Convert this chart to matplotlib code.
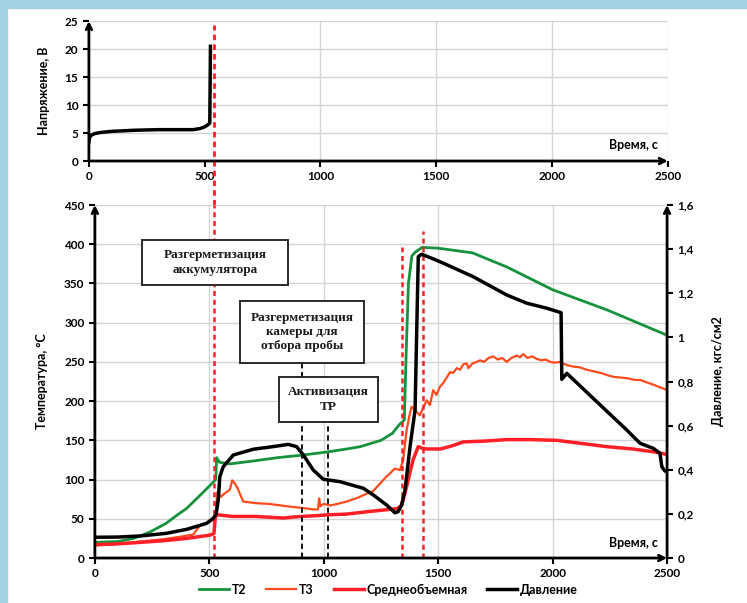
import matplotlib
matplotlib.use('Agg')
import matplotlib.pyplot as plt
from matplotlib.patches import Rectangle

plt.rcParams['font.family'] = ['Lato', 'DejaVu Sans']

# --- данные ---
volt_t = [0, 3, 10, 25, 50, 100, 150, 200, 300, 400, 450, 480, 500, 515, 522, 525]
volt_v = [3.3, 4.2, 4.6, 4.9, 5.1, 5.3, 5.4, 5.5, 5.6, 5.6, 5.6, 5.8, 6.1, 6.5, 6.8, 20.5]

t2_t = [0, 100, 170, 240, 310, 370, 400, 460, 515, 528, 532, 545, 590, 700, 800, 900, 1010,
        1100, 1160, 1250, 1300, 1330, 1345, 1352, 1360, 1370, 1385, 1400, 1430, 1500, 1650,
        1800, 2000, 2240, 2500]
t2_v = [20, 21, 25, 33, 44, 57, 63, 80, 96, 100, 128, 122, 120, 124, 128, 131, 135,
        139, 142, 150, 159, 170, 174, 176, 260, 350, 385, 390, 396, 395, 389,
        371, 342, 316, 284]

t3_t = [0, 100, 200, 300, 370, 430, 460, 500, 518, 528, 535, 550, 570, 590, 600, 612, 625,
        648, 700, 760, 838, 900, 954, 975, 980, 985, 1000, 1027, 1060, 1100, 1150, 1187, 1215,
        1246, 1275, 1290, 1310, 1333, 1347, 1362, 1377, 1384, 1400, 1420, 1435, 1450, 1464,
        1478, 1493, 1507, 1522, 1537, 1552, 1566, 1581, 1596, 1610, 1625, 1632, 1650, 1667,
        1683, 1700, 1720, 1741, 1760, 1780, 1799, 1820, 1843, 1858, 1872, 1890, 1910, 1930,
        1950, 1970, 1989, 2010, 2030, 2062, 2090, 2120, 2149, 2180, 2210, 2240, 2265, 2300,
        2330, 2360, 2382, 2410, 2440, 2465, 2484, 2500]
t3_v = [16, 18, 21, 24, 27, 30, 42, 46, 49, 55, 84, 78, 83, 87, 99, 95, 88,
        72, 70, 69, 66, 64, 62, 62, 76, 66, 69, 67, 69, 72, 77, 82, 85,
        95, 104, 108, 114, 112, 125, 163, 185, 193, 188, 182, 192, 201, 195,
        214, 208, 218, 223, 230, 237, 236, 242, 240, 247, 248, 242, 248, 250,
        252, 250, 255, 257, 253, 255, 250, 255, 258, 256, 260, 255, 257, 254,
        252, 253, 250, 249, 250, 246, 244, 243, 240, 238, 236, 233, 231, 230,
        229, 227, 227, 224, 221, 218, 216, 214]

avg_t = [0, 100, 200, 300, 400, 500, 520, 527, 540, 600, 700, 823, 900, 970, 1013, 1100,
         1190, 1320, 1340, 1362, 1390, 1413, 1430, 1450, 1510, 1560, 1610, 1700, 1800, 1900,
         2018, 2100, 2236, 2350, 2450, 2500]
avg_v = [17, 18, 20, 22, 25, 29, 31, 54, 55, 53, 53, 51, 53, 54, 55, 56,
         59, 63, 67, 91, 125, 142, 140, 139, 139, 143, 148, 149, 151, 151,
         150, 147, 142, 139, 135, 132]

p_t = [0, 100, 200, 313, 401, 488, 517, 530, 539, 546, 561, 605, 692, 779, 845, 881, 911,
       954, 998, 1071, 1173, 1216, 1275, 1311, 1325, 1340, 1355, 1377, 1399, 1413, 1428,
       1508, 1653, 1800, 1887, 1975, 2037, 2040, 2062, 2178, 2324, 2382, 2440, 2469, 2477,
       2490, 2500]
p_v = [0.094, 0.095, 0.1, 0.112, 0.13, 0.157, 0.18, 0.2, 0.263, 0.369, 0.414, 0.467, 0.493,
       0.505, 0.515, 0.505, 0.467, 0.399, 0.357, 0.346, 0.316, 0.286, 0.24, 0.205, 0.21, 0.24,
       0.308, 0.505, 0.671, 1.366, 1.377, 1.343, 1.275, 1.192, 1.155, 1.132, 1.112, 0.81,
       0.837, 0.723, 0.58, 0.52, 0.497, 0.475, 0.414, 0.395, 0.39]

x_ticks = [0, 500, 1000, 1500, 2000, 2500]
volt_ticks = [0, 5, 10, 15, 20, 25]
temp_ticks = [0, 50, 100, 150, 200, 250, 300, 350, 400, 450]
p_ticks = [0, 0.2, 0.4, 0.6, 0.8, 1.0, 1.2, 1.4, 1.6]
p_labels = ['0', '0,2', '0,4', '0,6', '0,8', '1', '1,2', '1,4', '1,6']

red_top = 540        # разгерметизация аккумулятора (верхний график)
red_lines = [520, 1342, 1434]
red_tops = [1.0, 0.88, 0.926]
black_lines = [905, 1018]
black_tops = [0.552, 0.385]

# подписи-рамки: текст, (t0, t1, p0, p1) рамки на оси давления
notes = ['Разгерметизация\nаккумулятора',
         'Разгерметизация\nкамеры для\nотбора пробы',
         'Активизация\nТР']
note_boxes = [(205, 844, 1.2375, 1.441),
              (634, 1176, 0.884, 1.165),
              (804, 1237, 0.6165, 0.820)]

GREEN = '#17923c'
T3C = '#ff4a1c'
RED = '#ff1f26'
GRID = '#d4d4d4'

fig = plt.figure(figsize=(7.47, 6.03), dpi=100)
fig.patches.append(Rectangle((0, 0.986), 1, 0.014, transform=fig.transFigure,
                             color='#a3d2e4', zorder=0))
fig.patches.append(Rectangle((0, 0), 0.01, 1, transform=fig.transFigure,
                             color='#a3d2e4', zorder=0))


def style_axis(ax):
    ax.grid(True, color=GRID, lw=1)
    ax.set_axisbelow(True)
    for s in ['top', 'right', 'left', 'bottom']:
        ax.spines[s].set_visible(False)
    ax.tick_params(axis='both', length=4, width=1.5, labelsize=8.5, color='black')
    for lab in ax.get_xticklabels() + ax.get_yticklabels():
        lab.set_fontweight('bold')
    ax.annotate('', xy=(0, 1.0), xytext=(0, 0), xycoords='axes fraction',
                arrowprops=dict(arrowstyle='->', lw=2, color='black', shrinkA=0, shrinkB=0))
    ax.annotate('', xy=(1.0, 0), xytext=(0, 0), xycoords='axes fraction',
                arrowprops=dict(arrowstyle='->', lw=2, color='black', shrinkA=0, shrinkB=0))


# --- верхний график: напряжение ---
ax0 = fig.add_axes([0.119, 0.733, 0.775, 0.232])
ax0.plot(volt_t, volt_v, color='black', lw=2.5)
ax0.set_xlim(0, 2500)
ax0.set_ylim(0, 25)
ax0.set_xticks(x_ticks)
ax0.set_yticks(volt_ticks)
style_axis(ax0)
ax0.get_xgridlines()[1].set_visible(False)   # на оригинале линии сетки у 500 нет
ax0.axvline(red_top, ymin=-0.314, ymax=0.97, color=RED, lw=2, dashes=(2, 1.5), clip_on=False)
ax0.set_ylabel('Напряжение, В', fontsize=9, fontweight='bold')
ax0.yaxis.set_label_coords(-0.067, 0.5)
ax0.text(2455, 2.9, 'Время, с', ha='right', va='center', fontsize=9, fontweight='bold')

# --- нижний график: температуры и давление ---
ax = fig.add_axes([0.127, 0.0746, 0.766, 0.5854])
l2, = ax.plot(t2_t, t2_v, color=GREEN, lw=2, label='T2')
l3, = ax.plot(t3_t, t3_v, color=T3C, lw=1.6, label='T3')
la, = ax.plot(avg_t, avg_v, color=RED, lw=2.5, label='Среднеобъемная')
ax.set_xlim(0, 2500)
ax.set_ylim(0, 450)
ax.set_xticks(x_ticks)
ax.set_yticks(temp_ticks)
style_axis(ax)
ax.set_ylabel('Температура, °С', fontsize=9, fontweight='bold')
ax.yaxis.set_label_coords(-0.082, 0.5)
ax.text(2460, 19, 'Время, с', ha='right', va='center', fontsize=9, fontweight='bold')

for x, top in zip(red_lines, red_tops):
    ax.axvline(x, ymax=top, color=RED, lw=1.8, dashes=(2, 1.5))
for x, top in zip(black_lines, black_tops):
    ax.axvline(x, ymax=top, color='black', lw=1.3, dashes=(3, 2))

ax2 = ax.twinx()
lp, = ax2.plot(p_t, p_v, color='black', lw=2.5, label='Давление')
ax2.set_ylim(0, 1.6)
ax2.set_yticks(p_ticks)
ax2.set_yticklabels(p_labels)
for s in ['top', 'right', 'left', 'bottom']:
    ax2.spines[s].set_visible(False)
ax2.tick_params(axis='y', length=4, width=1.5, labelsize=8.5)
for lab in ax2.get_yticklabels():
    lab.set_fontweight('bold')
ax2.annotate('', xy=(1, 1.0), xytext=(1, 0), xycoords='axes fraction',
             arrowprops=dict(arrowstyle='->', lw=2, color='black', shrinkA=0, shrinkB=0))
ax2.set_ylabel('Давление, кгс/см2', fontsize=9, fontweight='bold')
ax2.yaxis.set_label_coords(1.079, 0.53)

for txt, (x0, x1, y0, y1) in zip(notes, note_boxes):
    ax2.add_patch(Rectangle((x0, y0), x1 - x0, y1 - y0, fc='white', ec='#2a2a2a',
                            lw=1.4, zorder=9))
    ax2.text((x0 + x1) / 2, (y0 + y1) / 2, txt, ha='center', va='center', fontsize=9.5,
             family='Liberation Serif', fontweight='bold', color='#1a1a1a',
             zorder=10, linespacing=1.25)

fig.legend([l2, l3, la, lp], ['T2', 'T3', 'Среднеобъемная', 'Давление'],
           loc='center', bbox_to_anchor=(0.52, 0.022), ncol=4, frameon=False,
           prop=dict(size=9, weight='bold'), handlelength=2.4, columnspacing=1.6,
           handletextpad=0.2)

fig.savefig('out.png', dpi=100)
